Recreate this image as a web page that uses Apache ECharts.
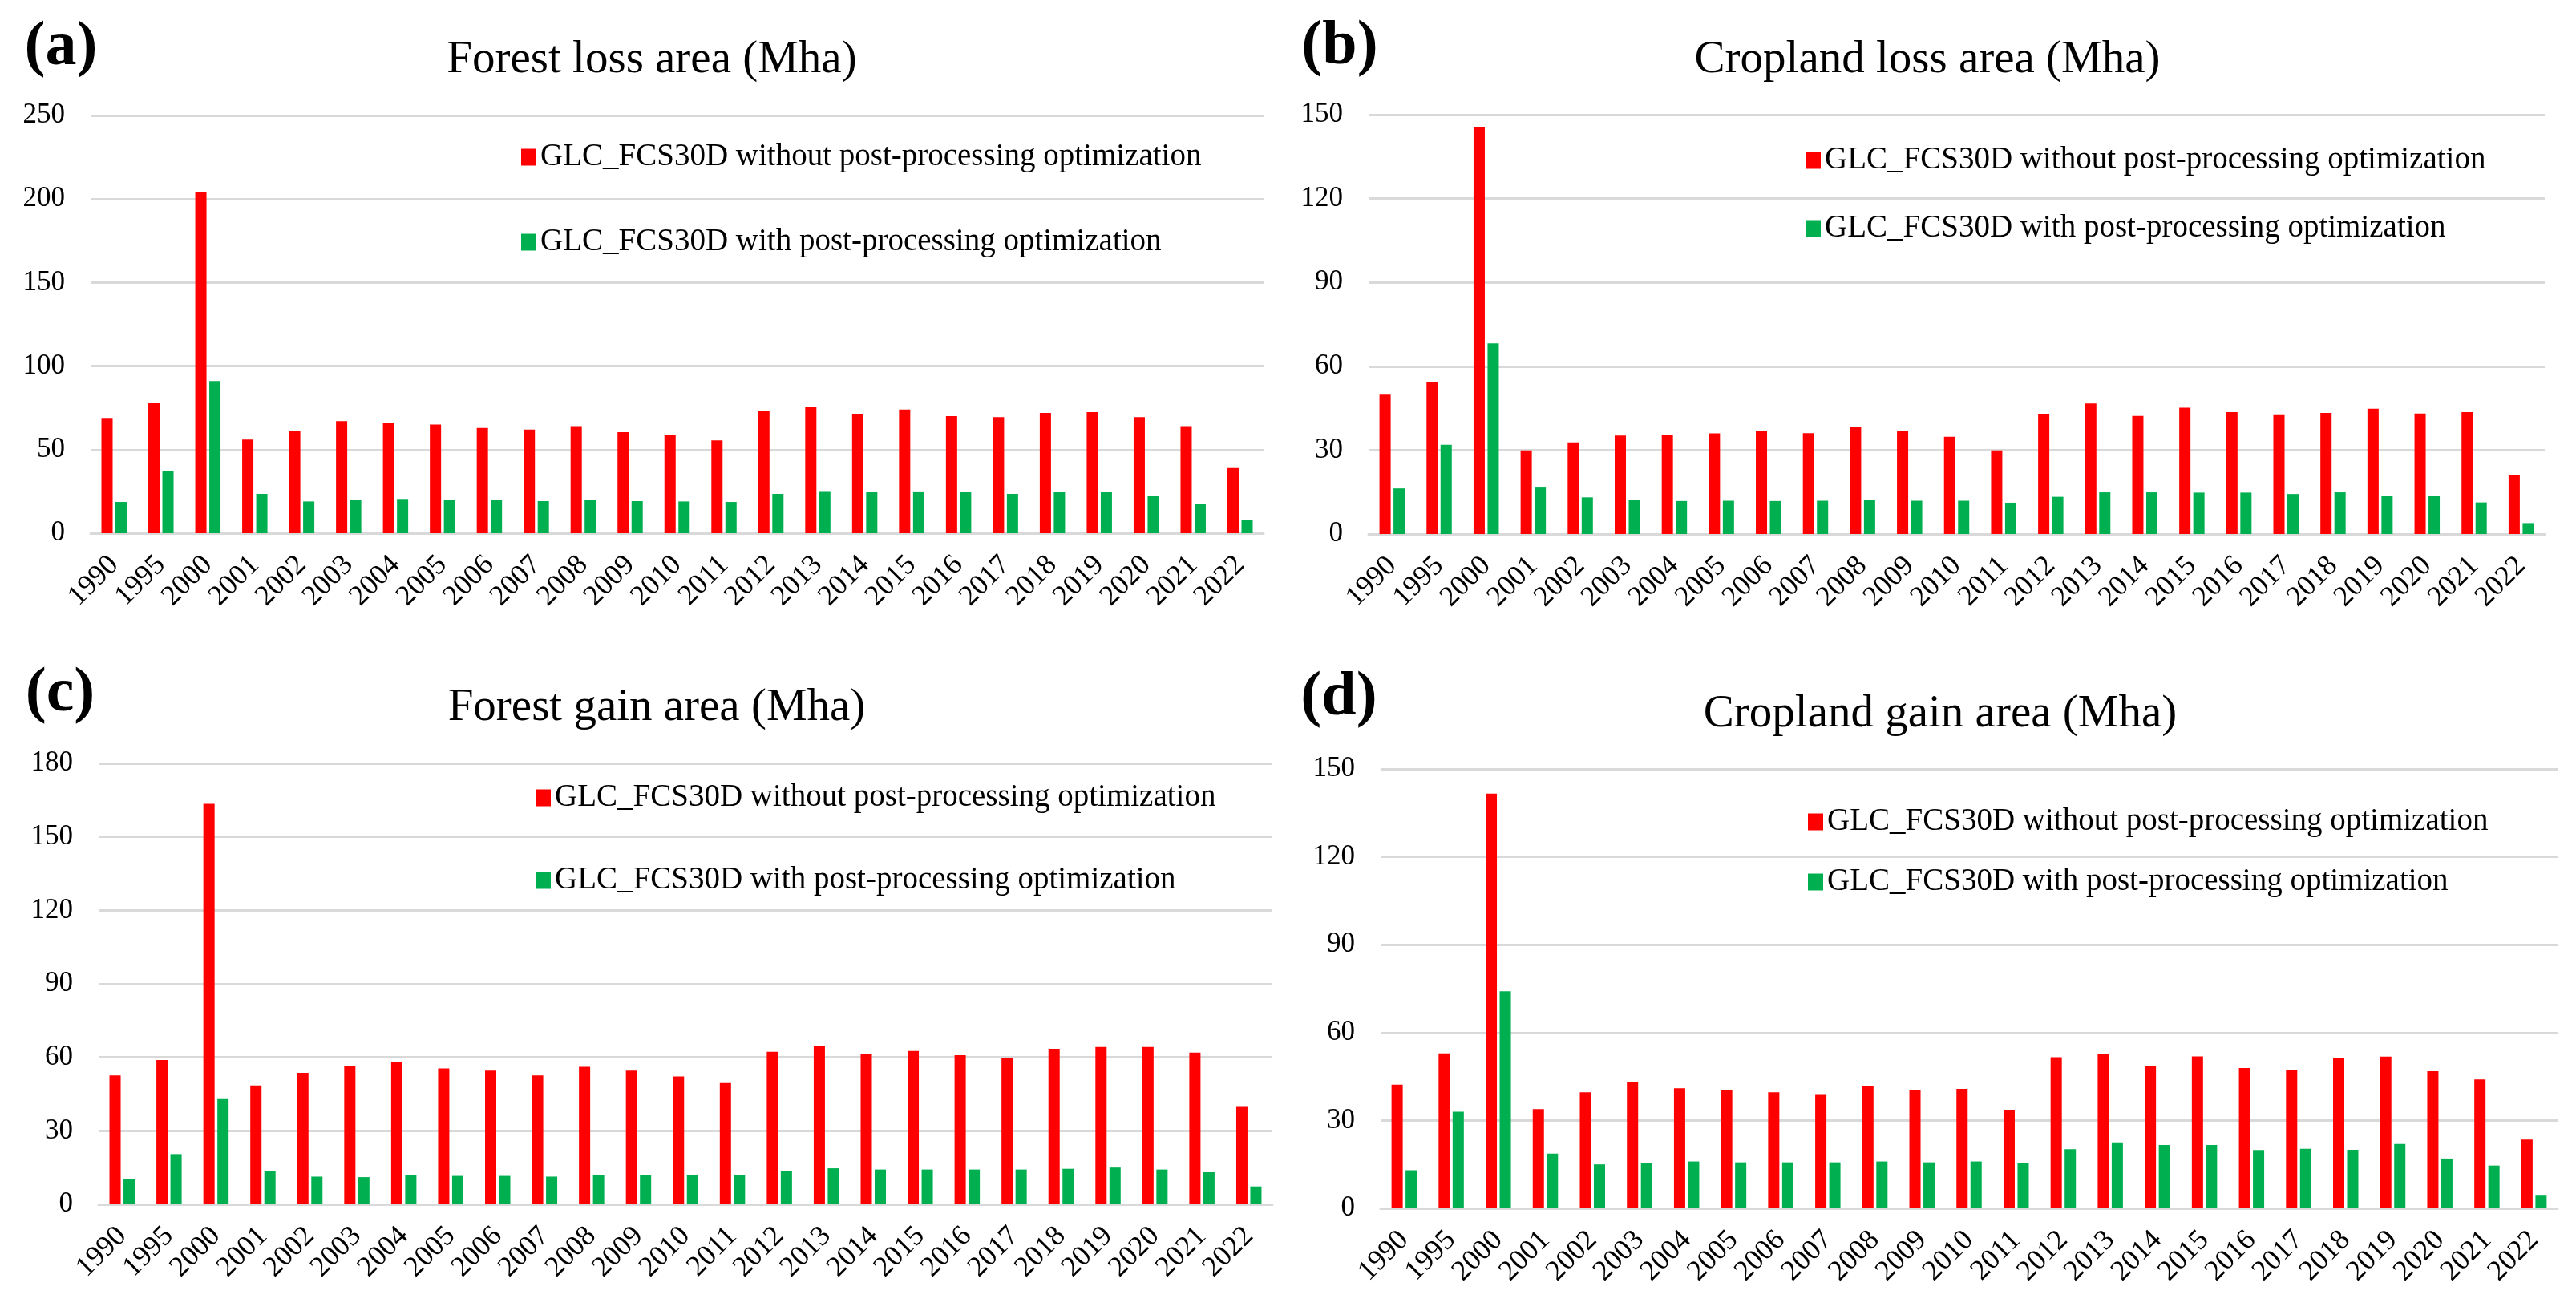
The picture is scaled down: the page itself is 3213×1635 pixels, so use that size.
<!DOCTYPE html>
<html>
<head>
<meta charset="utf-8">
<script src="https://cdn.jsdelivr.net/npm/echarts@6/dist/echarts.min.js"></script>
<style>
  html, body { margin: 0; padding: 0; background: #fff; }
  #chart { width: 3213px; height: 1635px; }
</style>
</head>
<body>
<div id="chart"></div>
<script>
"use strict";

var years = ["1990", "1995", "2000", "2001", "2002", "2003", "2004", "2005", "2006", "2007", "2008", "2009",
    "2010", "2011", "2012", "2013", "2014", "2015", "2016", "2017", "2018", "2019", "2020", "2021", "2022"];

var nameRaw = "GLC_FCS30D without post-processing optimization";
var nameOpt = "GLC_FCS30D with post-processing optimization";

var forestLossRaw = [69, 78, 204, 56, 61, 67, 66, 65, 63, 62, 64, 60.5, 59, 55.5, 73, 75.5, 71.5, 74, 70, 69.5, 72, 72.5, 69.5, 64, 39];
var forestLossOpt = [18.7, 36.9, 91.1, 23.5, 19, 19.7, 20.5, 20, 19.7, 19.2, 19.7, 19.2, 19, 18.7, 23.5, 25.2, 24.5, 25, 24.5, 23.5, 24.5, 24.5, 22.2, 17.5, 8];

var croplandLossRaw = [50.1, 54.5, 145.7, 29.9, 32.8, 35.2, 35.5, 36, 37, 36.1, 38.2, 37, 34.8, 29.9, 43, 46.7, 42.2, 45.2, 43.6, 42.8, 43.3, 44.8, 43.1, 43.6, 21];
var croplandLossOpt = [16.3, 31.9, 68.2, 16.9, 13.1, 12.1, 11.8, 11.9, 11.8, 11.9, 12.2, 11.9, 11.9, 11.2, 13.3, 14.9, 14.9, 14.8, 14.8, 14.3, 14.9, 13.7, 13.7, 11.3, 3.9];

var forestGainRaw = [52.6, 58.9, 163.5, 48.5, 53.7, 56.5, 58, 55.5, 54.6, 52.6, 56.1, 54.6, 52.2, 49.5, 62.3, 64.8, 61.4, 62.6, 60.9, 59.7, 63.5, 64.2, 64.2, 61.9, 40.1];
var forestGainOpt = [10.2, 20.5, 43.3, 13.6, 11.3, 11.1, 11.8, 11.6, 11.6, 11.3, 11.9, 11.9, 11.8, 11.8, 13.6, 14.7, 14.2, 14.2, 14.2, 14.2, 14.5, 15, 14.2, 13.1, 7.3];

var croplandGainRaw = [42.2, 52.9, 141.6, 33.9, 39.6, 43.2, 41, 40.3, 39.6, 39, 41.9, 40.3, 40.8, 33.7, 51.6, 52.8, 48.5, 51.9, 47.9, 47.3, 51.3, 51.8, 46.8, 44, 23.5];
var croplandGainOpt = [13, 33, 74.1, 18.7, 15, 15.4, 16, 15.7, 15.7, 15.7, 16, 15.7, 16, 15.6, 20.2, 22.5, 21.6, 21.6, 19.9, 20.3, 20, 22, 17, 14.6, 4.6];

var panelTitles = ["Forest loss area (Mha)", "Cropland loss area (Mha)", "Forest gain area (Mha)", "Cropland gain area (Mha)"];
var panelTags = ["(a)", "(b)", "(c)", "(d)"];
var yMax = [250, 150, 180, 150];
var yStep = [50, 30, 30, 30];

var FONT = "'Liberation Serif', 'Times New Roman', serif";
var RED = "#ff0000";
var GREEN = "#00b050";
var GRIDLINE = "#d9d9d9";

// panel layout, in pixels
var panels = [
    { grid: [113, 144, 1463, 521], title: [813, 75], tag: [76, 60], legend: [645, 171, 66], raw: forestLossRaw, opt: forestLossOpt },
    { grid: [1707, 143, 1467, 523], title: [2404, 75], tag: [1671, 59], legend: [2247, 175, 45], raw: croplandLossRaw, opt: croplandLossOpt },
    { grid: [123, 952, 1464, 550], title: [819, 883], tag: [75, 866], legend: [663, 970, 63], raw: forestGainRaw, opt: forestGainOpt },
    { grid: [1722, 959, 1468, 548], title: [2420, 891], tag: [1670, 871], legend: [2250, 1000, 35], raw: croplandGainRaw, opt: croplandGainOpt }
];

var grids = [], xAxes = [], yAxes = [], series = [], legends = [], texts = [];

panels.forEach(function (p, i) {
    grids.push({ left: p.grid[0], top: p.grid[1], width: p.grid[2], height: p.grid[3], containLabel: false });

    xAxes.push({
        type: "category", gridIndex: i, data: years,
        axisLine: { lineStyle: { color: GRIDLINE, width: 3 } },
        axisTick: { show: false },
        axisLabel: { rotate: 45, margin: 34, fontFamily: FONT, fontSize: 36, color: "#000", interval: 0 }
    });

    yAxes.push({
        type: "value", gridIndex: i, min: 0, max: yMax[i], interval: yStep[i],
        axisLine: { show: false },
        axisTick: { show: false },
        axisLabel: { margin: 32, fontFamily: FONT, fontSize: 35, color: "#000" },
        splitLine: { lineStyle: { color: GRIDLINE, width: 3 } }
    });

    series.push({
        name: nameRaw, type: "bar", xAxisIndex: i, yAxisIndex: i, data: p.raw,
        barWidth: 14, barGap: "25%", itemStyle: { color: RED }
    });
    series.push({
        name: nameOpt, type: "bar", xAxisIndex: i, yAxisIndex: i, data: p.opt,
        barWidth: 14, barGap: "25%", itemStyle: { color: GREEN }
    });

    legends.push({
        orient: "vertical", left: p.legend[0], top: p.legend[1], itemGap: p.legend[2],
        itemWidth: 19, itemHeight: 21, icon: "rect", selectedMode: false,
        data: [nameRaw, nameOpt],
        textStyle: { fontFamily: FONT, fontSize: 39, color: "#000", lineHeight: 40 }
    });

    texts.push({
        type: "text", x: p.title[0], y: p.title[1],
        style: { text: panelTitles[i], fontFamily: FONT, fontSize: 57, fill: "#000", textAlign: "center", textVerticalAlign: "middle" }
    });
    texts.push({
        type: "text", x: p.tag[0], y: p.tag[1],
        style: { text: panelTags[i], fontFamily: FONT, fontSize: 78, fontWeight: "bold", fill: "#000", textAlign: "center", textVerticalAlign: "middle" }
    });
});

var chart = echarts.init(document.getElementById("chart"));
chart.setOption({
    animation: false,
    backgroundColor: "#fff",
    grid: grids,
    xAxis: xAxes,
    yAxis: yAxes,
    legend: legends,
    graphic: texts,
    series: series
});
</script>
</body>
</html>
